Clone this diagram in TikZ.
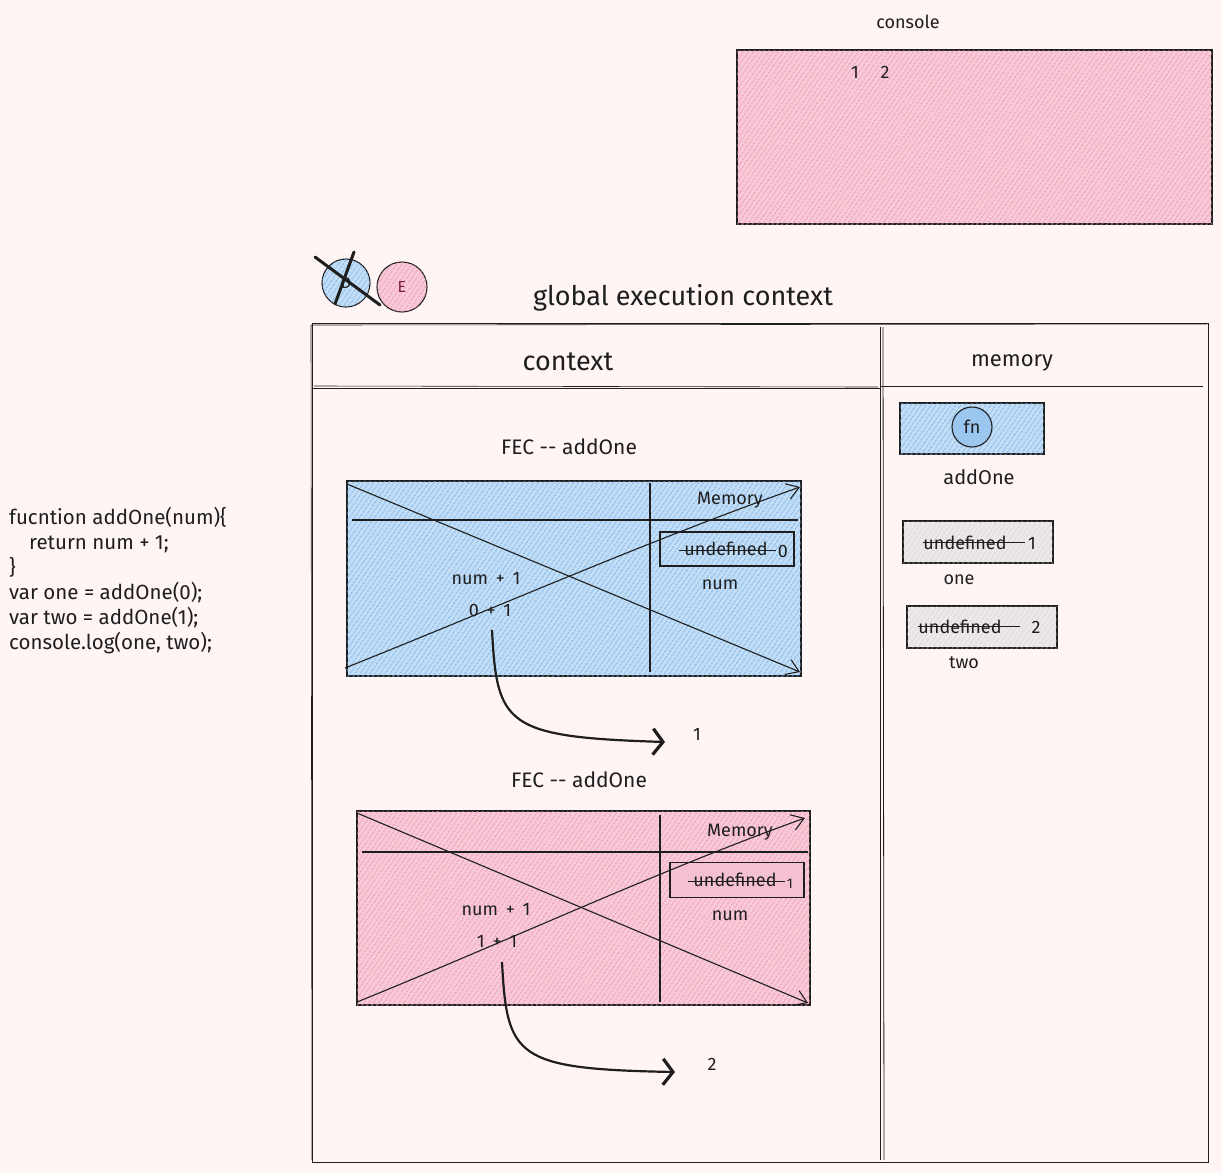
\documentclass[tikz,border=0pt]{standalone}
\usepackage{fontspec}
\setmainfont{Fira Sans}
\usetikzlibrary{arrows.meta,patterns.meta}
\definecolor{bg}{HTML}{FFF5F5}
\definecolor{ink}{HTML}{1E1E1E}
\definecolor{blueb}{HTML}{C2DDF5}
\definecolor{bluel}{HTML}{6FAEEA}
\definecolor{pinkb}{HTML}{F8CAD7}
\definecolor{pinkl}{HTML}{EC8EAB}
\definecolor{grayb}{HTML}{EEE8E8}
\definecolor{grayl}{HTML}{D0C8C8}
\definecolor{maroon}{HTML}{7A1F3D}
\begin{document}
\begin{tikzpicture}[x=1pt,y=-1pt,
  every node/.style={text=ink, inner sep=0pt},
  lbl/.style={font=\fontsize{18}{21}\selectfont},
  big/.style={font=\fontsize{27}{31}\selectfont},
  boxline/.style={draw=ink, line width=1.1pt},
  bluefill/.style={fill=blueb, postaction={pattern={Lines[angle=55,distance=4pt,line width=1pt]}, pattern color=bluel}},
  pinkfill/.style={fill=pinkb, postaction={pattern={Lines[angle=55,distance=4pt,line width=1pt]}, pattern color=pinkl}},
  grayfill/.style={fill=grayb, postaction={pattern={Lines[angle=55,distance=4pt,line width=0.7pt]}, pattern color=grayl}},
  thinarrow/.style={draw=ink, line width=1.1pt, -{Straight Barb[length=12pt,width=16pt,line width=1.1pt]}},
  bigarrow/.style={draw=ink, line width=2.2pt, -{Straight Barb[length=10pt,width=26pt,line width=3.2pt]}},
  strike/.style={draw=ink, line width=1pt}
]
\useasboundingbox[fill=bg] (0,0) rectangle (1222,1173);

% console
\node[lbl] (clabel) at (908,22) {console};
\node[boxline, pinkfill, minimum width=475pt, minimum height=174pt] (console) at (974.5,137) {};
\node[lbl] (cone) at (855,72) {1};
\node[lbl] (ctwo) at (885,72) {2};

% stack circles
\node[circle, boxline, bluefill, minimum size=48pt, font=\fontsize{16}{18}\selectfont] (dcirc) at (346,283) {D};
\draw[ink, line width=3pt, line cap=round] (315,257) -- (380,305);
\draw[ink, line width=3pt, line cap=round] (354,252) -- (335,304);
\node[circle, boxline, pinkfill, minimum size=50pt, text=maroon, font=\fontsize{16}{18}\selectfont] (ecirc) at (402,287) {E};

% title
\node[big] (gtitle) at (683,298) {global execution context};

% main frame
\draw[ink, line width=1pt] (312,323) rectangle (1208,1162);
\draw[ink, line width=0.6pt] (311,325) -- (1207,324);
\draw[ink, line width=0.6pt] (311,325) -- (312,1160);
\draw[ink, line width=1pt] (880,327) -- (880,1160);
\draw[ink, line width=0.8pt] (883,327) -- (884,1160);
\draw[ink, line width=1pt] (312,388) -- (880,388);
\draw[ink, line width=0.6pt] (314,386) -- (878,387);
\draw[ink, line width=1pt] (880,386) -- (1203,386);
\node[big] (hcontext) at (568,362) {context};
\node[font=\fontsize{22}{26}\selectfont] (hmemory) at (1012,363) {memory};

% FEC 1
\node[font=\fontsize{21}{24}\selectfont] (fec1lbl) at (569,447) {FEC -{}- addOne};
\node[boxline, bluefill, minimum width=454pt, minimum height=195pt] (fec1) at (574,578.5) {};
\draw[ink, line width=1.1pt] (650,483) -- (650,672);
\draw[ink, line width=1.1pt] (352,520) -- (798,520);
\node[lbl] (mem1) at (730,500) {Memory};
\node[boxline, minimum width=134pt, minimum height=34pt] (ubox1) at (727,549) {};
\node[lbl] (und1) at (726,549) {undefined};
\draw[strike] (und1.west) ++(-5pt,-1pt) -- ++(97pt,0);
\node[lbl] (val1) at (783,551) {0};
\node[lbl] (num1) at (720,585) {num};
\node[lbl] (expa1) at (486,579) {num \,+\, 1};
\node[lbl] (expb1) at (490,610) {0 \,+\, 1};
\draw[thinarrow] (347,484) -- (800,672);
\draw[thinarrow] (345,668) .. controls (500,606) and (650,540) .. (800,487);
\draw[bigarrow] (492,630) .. controls (497,725) and (505,737) .. (665,742);
\node[lbl] (res1) at (697,734) {1};

% FEC 2
\node[font=\fontsize{21}{24}\selectfont] (fec2lbl) at (579,780) {FEC -{}- addOne};
\node[boxline, pinkfill, minimum width=453pt, minimum height=194pt] (fec2) at (583.5,908) {};
\draw[ink, line width=1.1pt] (660,815) -- (660,1002);
\draw[ink, line width=1.1pt] (362,852) -- (808,852);
\node[lbl] (mem2) at (740,832) {Memory};
\node[boxline, fill=pinkl!55, minimum width=134pt, minimum height=35pt] (ubox2) at (737,880) {};
\node[lbl] (und2) at (735,880) {undefined};
\draw[strike] (und2.west) ++(-5pt,-1pt) -- ++(97pt,0);
\node[font=\fontsize{14}{16}\selectfont] (val2) at (790,884) {1};
\node[lbl] (num2) at (730,916) {num};
\node[lbl] (expa2) at (496,910) {num \,+\, 1};
\node[lbl] (expb2) at (497,941) {1 \,+\, 1};
\draw[thinarrow] (357,813) -- (808,1003);
\draw[thinarrow] (357,1002) .. controls (510,940) and (660,870) .. (805,818);
\draw[bigarrow] (502,962) .. controls (507,1057) and (515,1069) .. (675,1072);
\node[lbl] (res2) at (712,1064) {2};

% memory column
\node[boxline, bluefill, minimum width=144pt, minimum height=51pt] (fnbox) at (972,428.5) {};
\node[circle, boxline, fill=bluel!70, minimum size=40pt, font=\fontsize{18}{20}\selectfont] (fncirc) at (972,427) {fn};
\node[font=\fontsize{20}{23}\selectfont] (addone) at (979,477) {addOne};
\node[boxline, grayfill, minimum width=150pt, minimum height=42pt] (onebox) at (978,542) {};
\node[lbl] (undone) at (965,543) {undefined};
\draw[strike] (undone.west) ++(0,1pt) -- ++(102pt,0);
\node[lbl] (valone) at (1032,543) {1};
\node[lbl] (lone) at (959,580) {one};
\node[boxline, grayfill, minimum width=150pt, minimum height=42pt] (twobox) at (982,627) {};
\node[lbl] (undtwo) at (960,627) {undefined};
\draw[strike] (undtwo.west) ++(0,1pt) -- ++(102pt,0);
\node[lbl] (valtwo) at (1036,627) {2};
\node[lbl] (ltwo) at (964,663) {two};

% code
\node[anchor=north west, align=left, font=\fontsize{20.5}{25}\selectfont] (code) at (9,507) {%
fucntion addOne(num)\{\\
\hspace*{20pt}return num + 1;\\
\}\\
var one = addOne(0);\\
var two = addOne(1);\\
console.log(one, two);};
\end{tikzpicture}
\end{document}
